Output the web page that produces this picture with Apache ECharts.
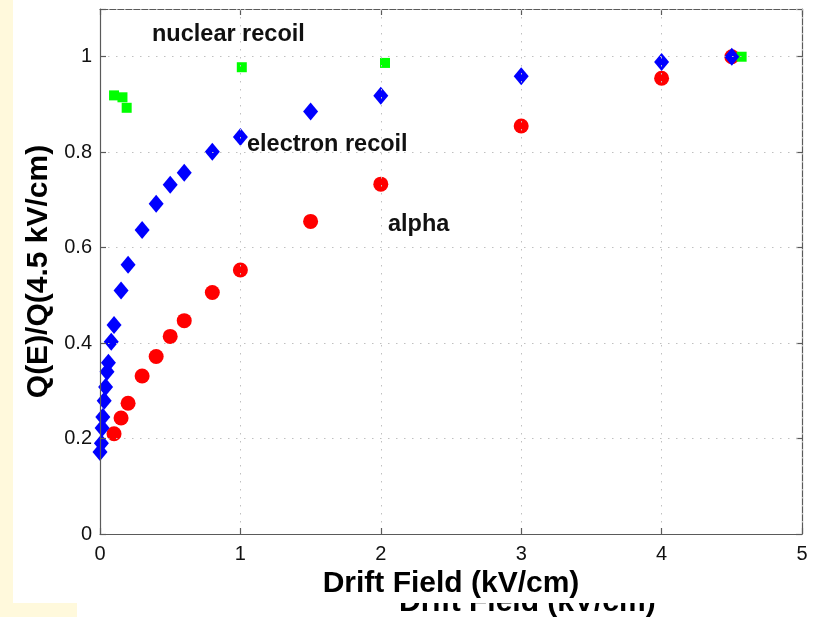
<!DOCTYPE html>
<html>
<head>
<meta charset="utf-8">
<style>
  html, body { margin: 0; padding: 0; background: #ffffff; }
  #chart { width: 820px; height: 617px; }
</style>
<script src="https://cdn.jsdelivr.net/npm/echarts@6/dist/echarts.min.js"></script>
</head>
<body>
<div id="chart"></div>
<script>
// Charge yield relative to 4.5 kV/cm, versus drift field
const electronField = [0, 0.01, 0.015, 0.02, 0.03, 0.04, 0.05, 0.06, 0.08, 0.1, 0.15, 0.2, 0.3, 0.4, 0.5, 0.6, 0.8, 1.0, 1.5, 2.0, 3.0, 4.0, 4.5];
const electronQ     = [0.172, 0.19, 0.222, 0.245, 0.279, 0.308, 0.34, 0.359, 0.403, 0.438, 0.51, 0.564, 0.637, 0.692, 0.732, 0.757, 0.801, 0.832, 0.885, 0.918, 0.959, 0.989, 1.0];

const alphaField = [0.1, 0.15, 0.2, 0.3, 0.4, 0.5, 0.6, 0.8, 1.0, 1.5, 2.0, 3.0, 4.0, 4.5];
const alphaQ     = [0.21, 0.243, 0.274, 0.331, 0.372, 0.414, 0.447, 0.506, 0.553, 0.655, 0.733, 0.855, 0.955, 1.0];

const nuclearField = [0.1, 0.16, 0.19, 1.01, 2.03, 4.57];
const nuclearQ     = [0.919, 0.915, 0.893, 0.978, 0.987, 1.0];

const xTicks = [0, 1, 2, 3, 4, 5];
const yTicks = [0, 0.2, 0.4, 0.6, 0.8, 1];

const FONT = '"Liberation Sans", Arial, Helvetica, sans-serif';
const pair = (xs, ys) => xs.map((x, i) => [x, ys[i]]);

const chart = echarts.init(document.getElementById('chart'), null, { renderer: 'canvas' });

const axisLineStyle = { color: '#5a5a5a', width: 1.2 };
const gridDots = { color: '#c0c0c0', width: 1, type: [1.5, 6.5] };

chart.setOption({
  backgroundColor: '#ffffff',
  animation: false,
  grid: { left: 100, right: 18, top: 9, bottom: 83, containLabel: false },
  xAxis: [
    {
      type: 'value', position: 'bottom', min: 0, max: 5, interval: 1, z: 10,
      name: 'Drift Field (kV/cm)', nameLocation: 'middle', nameGap: 30,
      nameTextStyle: { fontFamily: FONT, fontWeight: 'bold', fontSize: 30, color: '#000' },
      axisLine: { show: true, onZero: false, lineStyle: axisLineStyle },
      axisTick: { show: true, inside: true, length: 6, lineStyle: axisLineStyle },
      axisLabel: {
        fontFamily: FONT, fontSize: 20, color: '#111', margin: 10,
        formatter: v => (xTicks.includes(v) ? String(v) : '')
      },
      splitLine: { show: true, lineStyle: gridDots }
    },
    {
      type: 'value', position: 'top', min: 0, max: 5, interval: 1,
      axisLine: { show: true, onZero: false, lineStyle: axisLineStyle },
      axisTick: { show: true, inside: true, length: 6, lineStyle: axisLineStyle },
      axisLabel: { show: false },
      splitLine: { show: false }
    }
  ],
  yAxis: [
    {
      type: 'value', position: 'left', min: 0, max: 1.1, interval: 0.2, z: 10,
      name: 'Q(E)/Q(4.5 kV/cm)', nameLocation: 'middle', nameGap: 46, nameRotate: 90,
      nameTextStyle: { fontFamily: FONT, fontWeight: 'bold', fontSize: 30, color: '#000' },
      axisLine: { show: true, onZero: false, lineStyle: axisLineStyle },
      axisTick: { show: true, inside: true, length: 6, lineStyle: axisLineStyle },
      axisLabel: {
        fontFamily: FONT, fontSize: 20, color: '#111', margin: 8,
        formatter: v => {
          const hit = yTicks.find(t => Math.abs(t - v) < 1e-6);
          return hit === undefined ? '' : String(hit);
        }
      },
      splitLine: { show: true, lineStyle: gridDots }
    },
    {
      type: 'value', position: 'right', min: 0, max: 1.1, interval: 0.2,
      axisLine: { show: true, onZero: false, lineStyle: axisLineStyle },
      axisTick: { show: true, inside: true, length: 6, lineStyle: axisLineStyle },
      axisLabel: { show: false },
      splitLine: { show: false }
    }
  ],
  series: [
    {
      name: 'alpha', type: 'scatter', xAxisIndex: 0, yAxisIndex: 0,
      symbol: 'circle', symbolSize: 15,
      itemStyle: { color: '#ff0000', opacity: 1 },
      data: pair(alphaField, alphaQ), z: 3
    },
    {
      name: 'nuclear recoil', type: 'scatter', xAxisIndex: 0, yAxisIndex: 0,
      symbol: 'rect', symbolSize: 10,
      itemStyle: { color: '#00ff00', opacity: 1 },
      data: pair(nuclearField, nuclearQ), z: 4
    },
    {
      name: 'electron recoil', type: 'scatter', xAxisIndex: 0, yAxisIndex: 0,
      symbol: 'diamond', symbolSize: [15, 18],
      itemStyle: { color: '#0000ff', opacity: 1 },
      data: pair(electronField, electronQ), z: 5
    }
  ],
  graphic: [
    // pale yellow slide margin
    { type: 'rect', z: 0, silent: true, shape: { x: 0, y: 0, width: 13, height: 617 }, style: { fill: '#fff9dc' } },
    { type: 'rect', z: 0, silent: true, shape: { x: 0, y: 603, width: 77, height: 14 }, style: { fill: '#fff9dc' } },
    // partly hidden duplicate axis caption below the figure
    { type: 'text', z: 1, silent: true, left: 399, top: 588,
      style: { text: 'Drift Field (kV/cm)', font: 'bold 30px ' + FONT, fill: '#000' } },
    { type: 'rect', z: 2, silent: true, shape: { x: 380, y: 584, width: 320, height: 19 }, style: { fill: '#ffffff' } },
    // curve annotations
    { type: 'text', z: 20, silent: true, x: 152, y: 35,
      style: { text: 'nuclear recoil', font: 'bold 23.5px ' + FONT, fill: '#111', verticalAlign: 'middle' } },
    { type: 'text', z: 20, silent: true, x: 247, y: 145,
      style: { text: 'electron recoil', font: 'bold 23.5px ' + FONT, fill: '#111', verticalAlign: 'middle' } },
    { type: 'text', z: 20, silent: true, x: 388, y: 225,
      style: { text: 'alpha', font: 'bold 23.5px ' + FONT, fill: '#111', verticalAlign: 'middle' } }
  ]
});
</script>
</body>
</html>
